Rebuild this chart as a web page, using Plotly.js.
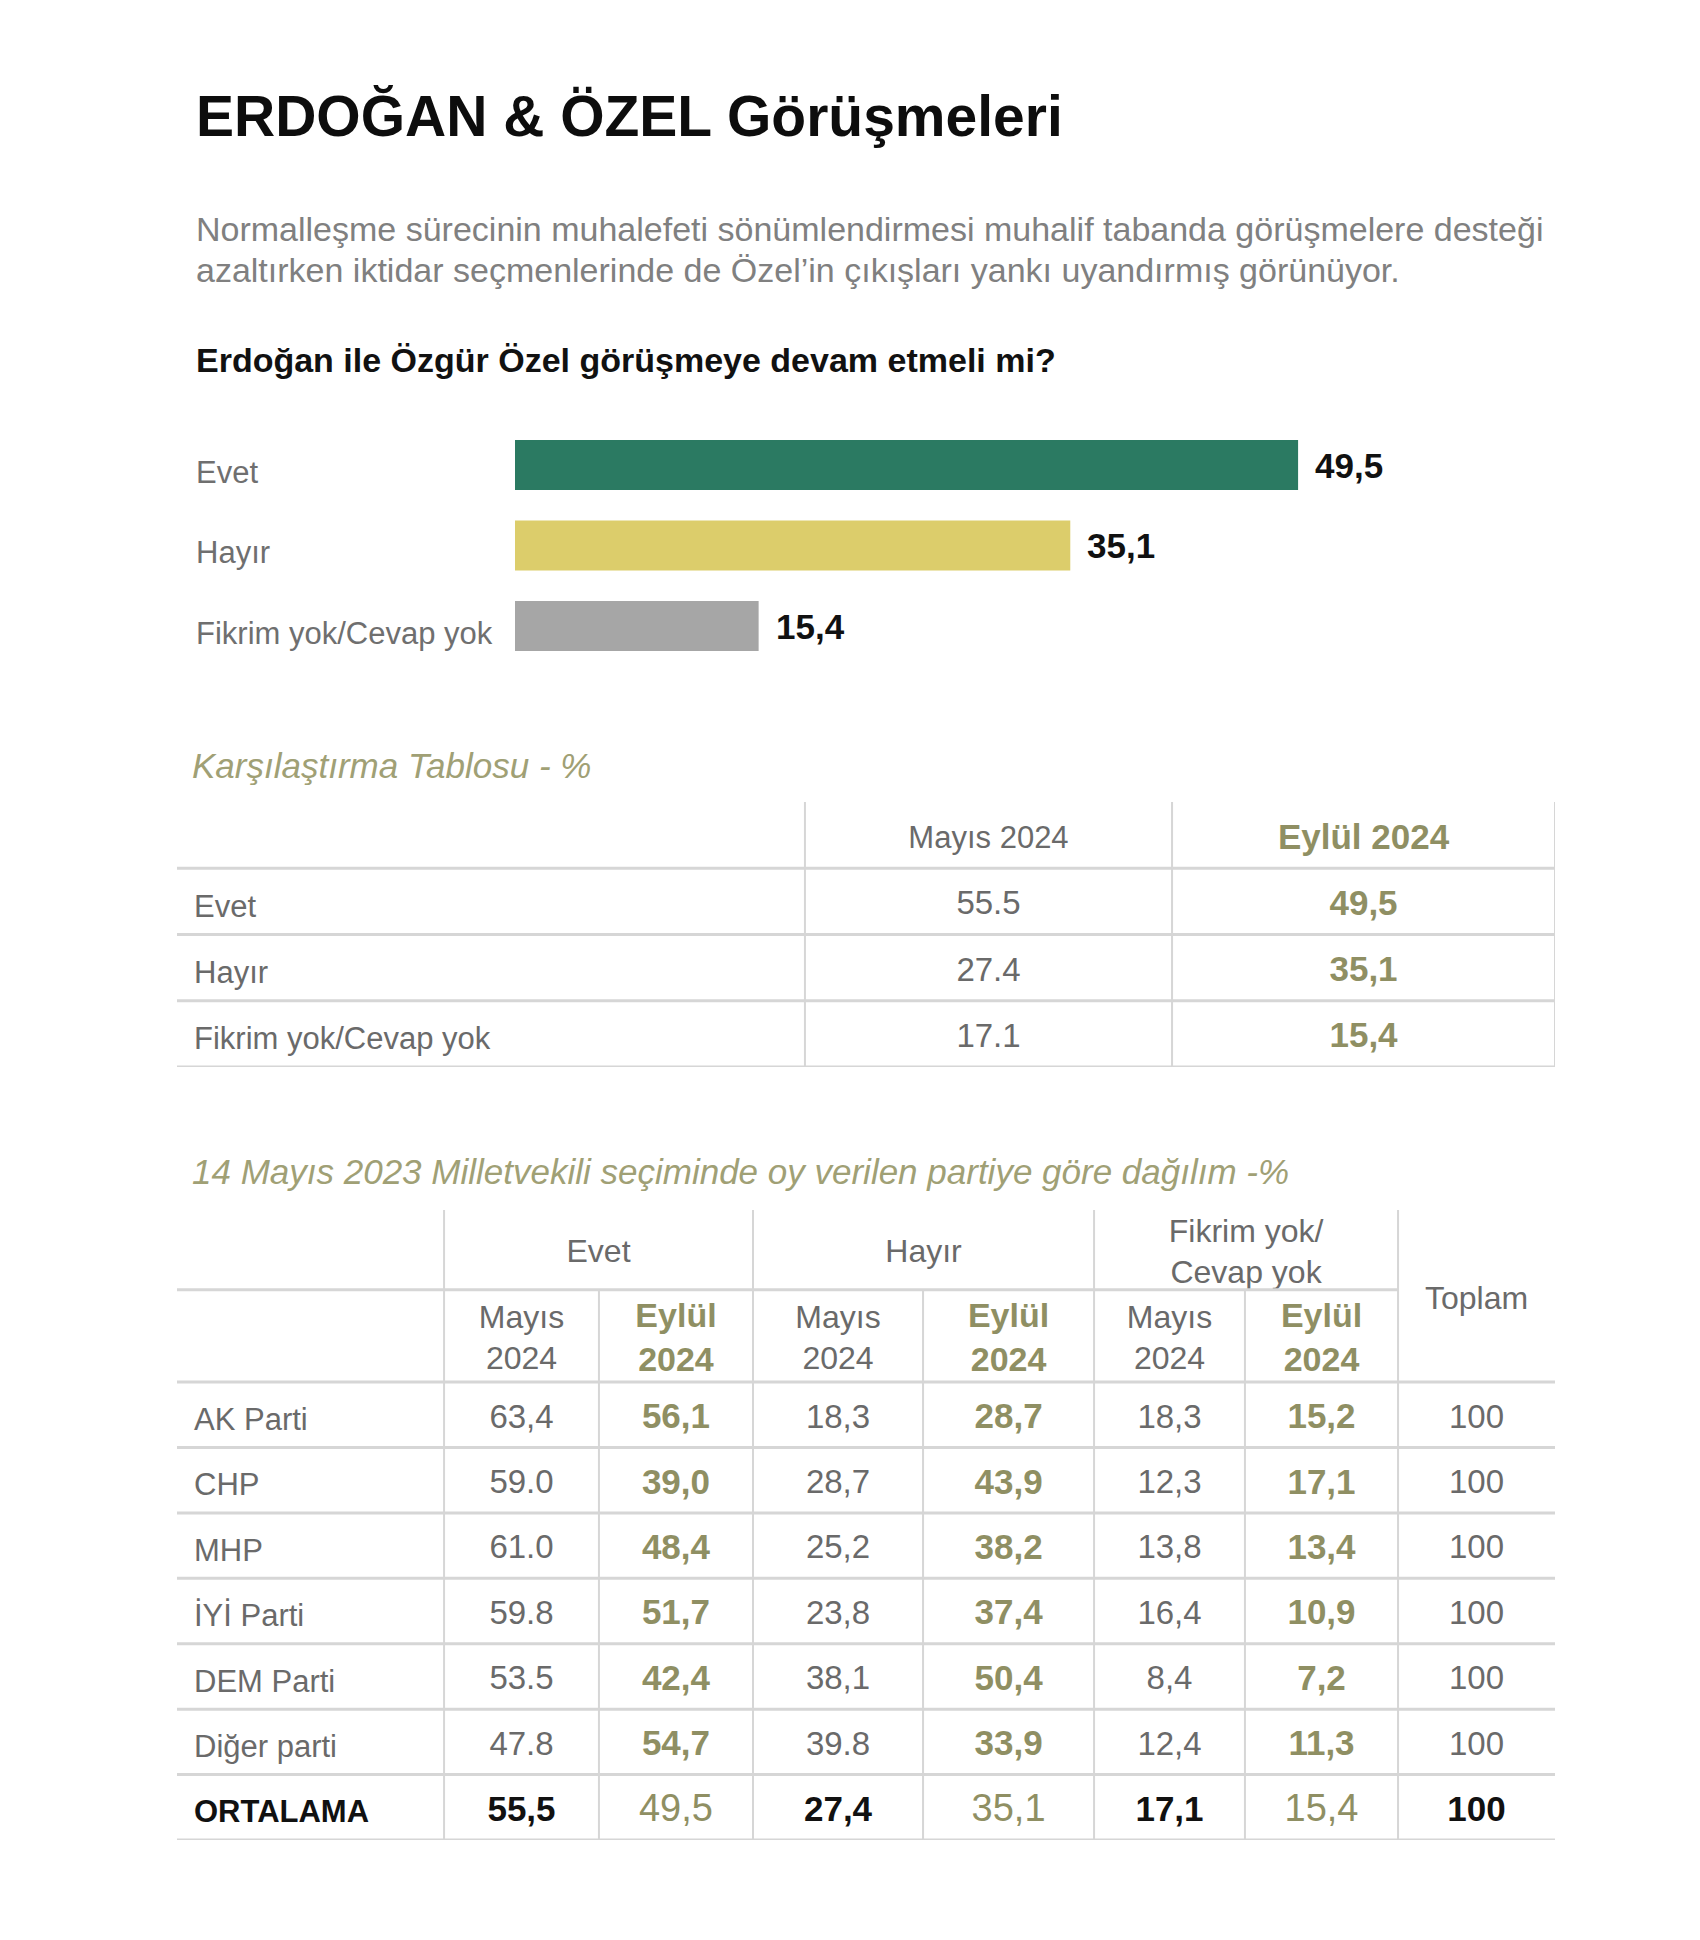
<!DOCTYPE html>
<html><head><meta charset="utf-8">
<script src="https://cdn.plot.ly/plotly-3.0.1.min.js"></script>
<style>html,body{margin:0;padding:0;background:#fff}</style>
</head><body><div id="chart" style="width:1700px;height:1940px"></div>
<script>
// ---------------- DATA ----------------
const titleText = 'ERDOĞAN & ÖZEL Görüşmeleri';
const subtitleLines = [
  'Normalleşme sürecinin muhalefeti sönümlendirmesi muhalif tabanda görüşmelere desteği',
  'azaltırken iktidar seçmenlerinde de Özel’in çıkışları yankı uyandırmış görünüyor.'
];
const questionText = 'Erdoğan ile Özgür Özel görüşmeye devam etmeli mi?';
const answerCategories = ['Evet', 'Hayır', 'Fikrim yok/Cevap yok'];
const answerValues = [49.5, 35.1, 15.4];

const compareTitle = 'Karşılaştırma Tablosu - %';
const compareHeaders = ['Mayıs 2024', 'Eylül 2024'];
const compareRows = ['Evet', 'Hayır', 'Fikrim yok/Cevap yok'];
const compareMayis = ['55.5', '27.4', '17.1'];
const compareEylul = ['49,5', '35,1', '15,4'];

const partyTitle = '14 Mayıs 2023 Milletvekili seçiminde oy verilen partiye göre dağılım -%';
const groupHeaders = ['Evet', 'Hayır', 'Fikrim yok/<br>Cevap yok'];
const periodHeaders = ['Mayıs<br>2024', 'Eylül<br>2024'];
const totalHeader = 'Toplam';
const parties = ['AK Parti', 'CHP', 'MHP', 'İYİ Parti', 'DEM Parti', 'Diğer parti', 'ORTALAMA'];
const evetMayis   = ['63,4', '59.0', '61.0', '59.8', '53.5', '47.8', '55,5'];
const evetEylul   = ['56,1', '39,0', '48,4', '51,7', '42,4', '54,7', '49,5'];
const hayirMayis  = ['18,3', '28,7', '25,2', '23,8', '38,1', '39.8', '27,4'];
const hayirEylul  = ['28,7', '43,9', '38,2', '37,4', '50,4', '33,9', '35,1'];
const fikrimMayis = ['18,3', '12,3', '13,8', '16,4', '8,4', '12,4', '17,1'];
const fikrimEylul = ['15,2', '17,1', '13,4', '10,9', '7,2', '11,3', '15,4'];
const toplam      = ['100', '100', '100', '100', '100', '100', '100'];

// ---------------- STYLE / LAYOUT CONSTANTS ----------------
const W = 1700, H = 1940;
const px = v => v / W;
const py = v => 1 - v / H;
const FONT = '"Liberation Sans", Arial, Helvetica, sans-serif';
const C = {
  title: '#0d0d0d', sub: '#808080', label: '#6f6f6f', text: '#6a6a6a',
  olive: '#8f8f63', oliveTitle: '#a0a075', line: '#d6d6d6', black: '#111111'
};
const barColors = ['#2b7a62', '#dccd6b', '#a6a6a6'];

// bar chart geometry
const barLeft = 515, barUnitPx = 15.82, barMax = 60, barTop = 424.75, barRowPx = 80.5;
// tables geometry
const tabLeft = 177, tabRight = 1555;
const t1Top = 802, t1Bottom = 1067;
const t1Cols = [0, 0.4557, 0.7221, 1];
const t2Top = 1210, t2Bottom = 1840, t2HeadTop = -2.63, t2GroupBottom = -1.41;
const t2Cols = [0, 0.1938, 0.3062, 0.418, 0.5414, 0.6655, 0.775, 0.8861, 1];
const labelX = 0.011;
const textOff = 0.07;

const mid = (a, i) => (a[i] + a[i + 1]) / 2;

// ---------------- TRACES ----------------
const traces = [];
traces.push({
  type: 'bar', orientation: 'h', x: answerValues, y: answerCategories,
  marker: { color: barColors, line: { width: 0 } }, width: 0.62,
  xaxis: 'x', yaxis: 'y', hoverinfo: 'skip', showlegend: false
});

function textTrace(xa, ya, xs, ys, texts, font) {
  return { type: 'scatter', mode: 'text', x: xs, y: ys, text: texts,
    textposition: 'middle center', textfont: font, xaxis: xa, yaxis: ya,
    hoverinfo: 'skip', cliponaxis: false, showlegend: false };
}
const fGray = s => ({ family: FONT, size: s, color: C.text });
const fOliveB = s => ({ family: FONT, size: s, color: C.olive, weight: 'bold' });
const fOlive = s => ({ family: FONT, size: s, color: C.olive });
const fBlackB = s => ({ family: FONT, size: s, color: C.black, weight: 'bold' });

// table 1
const t1Data = [compareMayis, compareEylul];
t1Data.forEach((col, j) => {
  const cx = mid(t1Cols, j + 1);
  traces.push(textTrace('x2', 'y2', [cx], [0.5 + textOff], [compareHeaders[j]], j === 0 ? fGray(31) : fOliveB(35)));
  traces.push(textTrace('x2', 'y2', col.map(() => cx), col.map((_, i) => i + 1.5 + textOff), col, j === 0 ? fGray(33) : fOliveB(35)));
});

// table 2
const t2Data = [evetMayis, evetEylul, hayirMayis, hayirEylul, fikrimMayis, fikrimEylul, toplam];
const nBody = parties.length - 1;
t2Data.forEach((col, j) => {
  const cx = mid(t2Cols, j + 1);
  const isEylul = (j % 2 === 1) && j < 6;
  const body = col.slice(0, nBody);
  traces.push(textTrace('x3', 'y3', body.map(() => cx), body.map((_, i) => i + 0.5 + textOff), body, isEylul ? fOliveB(35) : fGray(33)));
  traces.push(textTrace('x3', 'y3', [cx], [nBody + 0.5 + textOff], [col[nBody]], isEylul ? fOlive(38) : fBlackB(35)));
  if (j < 6) {
    traces.push(textTrace('x3', 'y3', [cx], [(t2GroupBottom / 2) + textOff], [periodHeaders[j % 2]], isEylul ? fOliveB(34) : fGray(32)));
  }
});
groupHeaders.forEach((g, k) => {
  const cx = (t2Cols[1 + 2 * k] + t2Cols[3 + 2 * k]) / 2;
  traces.push(textTrace('x3', 'y3', [cx], [(t2HeadTop + t2GroupBottom) / 2 + textOff], [g], fGray(32)));
});
traces.push(textTrace('x3', 'y3', [mid(t2Cols, 7)], [t2HeadTop / 2 + textOff], [totalHeader], fGray(32)));

// ---------------- ANNOTATIONS ----------------
const ann = [];
const paperText = (text, x, y, font) => ann.push({ xref: 'paper', yref: 'paper', x: px(x), y: py(y),
  xanchor: 'left', yanchor: 'middle', text, showarrow: false, font });
paperText(titleText, 194, 116, { family: FONT, size: 57, color: C.title, weight: 'bold' });
paperText(subtitleLines[0], 194, 229, { family: FONT, size: 34, color: C.sub });
paperText(subtitleLines[1], 194, 270, { family: FONT, size: 34, color: C.sub });
paperText(questionText, 194, 360, { family: FONT, size: 34, color: C.black, weight: 'bold' });
paperText(compareTitle, 190, 766, { family: FONT, size: 35, color: C.oliveTitle, style: 'italic' });
paperText(partyTitle, 190, 1171, { family: FONT, size: 35, color: C.oliveTitle, style: 'italic' });

answerCategories.forEach((c, i) => {
  ann.push({ xref: 'paper', yref: 'y', x: px(194), y: c, xanchor: 'left', yanchor: 'middle', yshift: -7,
    text: c, showarrow: false, font: { family: FONT, size: 31, color: C.label } });
  ann.push({ xref: 'x', yref: 'y', x: answerValues[i], y: c, xanchor: 'left', yanchor: 'middle', xshift: 15,
    text: answerValues[i].toFixed(1).replace('.', ','), showarrow: false,
    font: { family: FONT, size: 35, color: C.black, weight: 'bold' } });
});
compareRows.forEach((r, i) => {
  ann.push({ xref: 'x2', yref: 'y2', x: labelX, y: i + 1.5 + textOff, xanchor: 'left', yanchor: 'middle',
    text: r, showarrow: false, font: { family: FONT, size: 31, color: C.text } });
});
parties.forEach((p, i) => {
  const avg = i === nBody;
  ann.push({ xref: 'x3', yref: 'y3', x: labelX, y: i + 0.5 + textOff, xanchor: 'left', yanchor: 'middle',
    text: p, showarrow: false, font: avg ? { family: FONT, size: 31, color: C.black, weight: 'bold' } : { family: FONT, size: 31, color: C.text } });
});

// ---------------- SHAPES (table rules) ----------------
const shapes = [];
const hline = (xr, yr, x0, x1, y, w) => shapes.push({ type: 'line', xref: xr, yref: yr, x0, x1, y0: y, y1: y, line: { color: C.line, width: w } });
const vline = (xr, yr, x, y0, y1, w) => shapes.push({ type: 'line', xref: xr, yref: yr, x0: x, x1: x, y0, y1, line: { color: C.line, width: w } });
for (let r = 1; r <= compareRows.length + 1; r++) hline('x2', 'y2', 0, 1, r, 3);
for (let j = 1; j < t1Cols.length; j++) vline('x2', 'y2', t1Cols[j], 0, compareRows.length + 1, 2);

hline('x3', 'y3', 0, t2Cols[7], t2GroupBottom, 3);
for (let r = 0; r <= parties.length; r++) hline('x3', 'y3', 0, 1, r, 3);
for (let j = 1; j <= 7; j++) vline('x3', 'y3', t2Cols[j], j % 2 === 1 ? t2HeadTop : t2GroupBottom, parties.length, 2);

// ---------------- LAYOUT ----------------
const hidden = { visible: false, fixedrange: true };
const layout = {
  width: W, height: H, margin: { l: 0, r: 0, t: 0, b: 0 },
  paper_bgcolor: '#ffffff', plot_bgcolor: 'rgba(0,0,0,0)', showlegend: false, hovermode: false,
  xaxis: Object.assign({}, hidden, { domain: [px(barLeft), px(barLeft + barMax * barUnitPx)], range: [0, barMax], anchor: 'y' }),
  yaxis: Object.assign({}, hidden, { type: 'category', categoryarray: answerCategories, categoryorder: 'array',
    domain: [py(barTop + 3 * barRowPx), py(barTop)], range: [2.5, -0.5], anchor: 'x' }),
  xaxis2: Object.assign({}, hidden, { domain: [px(tabLeft), px(tabRight)], range: [0, 1], anchor: 'y2' }),
  yaxis2: Object.assign({}, hidden, { domain: [py(t1Bottom), py(t1Top)], range: [compareRows.length + 1, 0], anchor: 'x2' }),
  xaxis3: Object.assign({}, hidden, { domain: [px(tabLeft), px(tabRight)], range: [0, 1], anchor: 'y3' }),
  yaxis3: Object.assign({}, hidden, { domain: [py(t2Bottom), py(t2Top)], range: [parties.length, t2HeadTop], anchor: 'x3' }),
  annotations: ann, shapes: shapes
};
Plotly.newPlot('chart', traces, layout, { staticPlot: true, displayModeBar: false });
</script>
</body></html>
